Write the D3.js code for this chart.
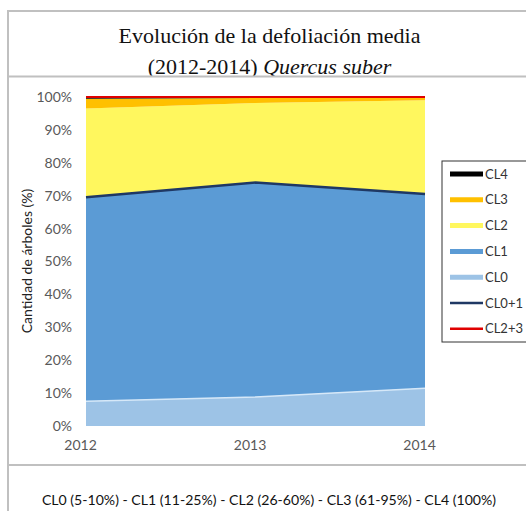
<!DOCTYPE html>
<html><head><meta charset="utf-8">
<script src="https://cdn.jsdelivr.net/npm/d3@7"></script>
<style>body{margin:0;background:#fff}svg{display:block}</style>
</head><body>
<script>
const years = ["2012", "2013", "2014"];
const CL0 = [7.5, 8.8, 11.5];
const CL1 = [62.0, 65.2, 59.0];
const CL2 = [27.0, 24.2, 28.5];
const CL3 = [3.0, 1.5, 0.8];
const CL4 = [0.5, 0.3, 0.2];
const yTicks = [0, 10, 20, 30, 40, 50, 60, 70, 80, 90, 100];
const legendLabels = ["CL4", "CL3", "CL2", "CL1", "CL0", "CL0+1", "CL2+3"];
const titleLine1 = "Evolución de la defoliación media";
const footer = "CL0 (5-10%) - CL1 (11-25%) - CL2 (26-60%) - CL3 (61-95%) - CL4 (100%)";

const W = 526, H = 511;
const svg = d3.select("body").append("svg").attr("width", W).attr("height", H);
const sans = "Lato, sans-serif";

// frame
const frameColor = "#c0c0c0";
svg.append("line").attr("x1", 8).attr("x2", W).attr("y1", 11).attr("y2", 11).attr("stroke", frameColor).attr("stroke-width", 2);
svg.append("line").attr("x1", 8).attr("x2", 8).attr("y1", 10).attr("y2", H).attr("stroke", frameColor).attr("stroke-width", 2);
svg.append("line").attr("x1", 8).attr("x2", W).attr("y1", 76.5).attr("y2", 76.5).attr("stroke", frameColor).attr("stroke-width", 2);
svg.append("line").attr("x1", 8).attr("x2", W).attr("y1", 465).attr("y2", 465).attr("stroke", frameColor).attr("stroke-width", 2);

// title (second line clipped by the rule)
svg.append("clipPath").attr("id", "tclip").append("rect").attr("x", 0).attr("y", 12).attr("width", W).attr("height", 63.5);
const tg = svg.append("g").attr("clip-path", "url(#tclip)");
tg.append("text").attr("x", 269.5).attr("y", 43).attr("text-anchor", "middle")
  .attr("font-family", "Liberation Serif, serif").attr("font-size", 22).attr("fill", "#111")
  .text(titleLine1);
const t2 = tg.append("text").attr("x", 269.5).attr("y", 74).attr("text-anchor", "middle")
  .attr("font-family", "Liberation Serif, serif").attr("font-size", 22).attr("fill", "#111");
t2.append("tspan").text("(2012-2014) ");
t2.append("tspan").attr("font-style", "italic").text("Quercus suber");

// scales
const x = d3.scalePoint().domain(years).range([86, 425]);
const y = d3.scaleLinear().domain([0, 100]).range([426, 97]);

const series = [
  {name: "CL0", vals: CL0, color: "#9dc3e6"},
  {name: "CL1", vals: CL1, color: "#5b9bd5"},
  {name: "CL2", vals: CL2, color: "#fff75e"},
  {name: "CL3", vals: CL3, color: "#ffc000"},
  {name: "CL4", vals: CL4, color: "#000000"}
];
const rows = years.map((yr, i) => {
  const r = {year: yr};
  series.forEach(s => r[s.name] = s.vals[i]);
  return r;
});
const stack = d3.stack().keys(series.map(s => s.name))(rows);
const area = d3.area().x(d => x(d.data.year)).y0(d => y(d[0])).y1(d => y(d[1]));
svg.append("g").selectAll("path").data(stack).join("path")
  .attr("d", area).attr("fill", (d, i) => series[i].color);

// highlight edge of CL0
svg.append("path").datum(stack[0])
  .attr("d", d3.line().x(d => x(d.data.year)).y(d => y(d[1])))
  .attr("fill", "none").attr("stroke", "#d6e8f8").attr("stroke-width", 1.5);

// lines (stacked line series)
const l01 = years.map((yr, i) => ({year: yr, v: CL0[i] + CL1[i]}));
const l23 = years.map((yr, i) => ({year: yr, v: CL0[i] + CL1[i] + CL2[i] + CL3[i] + CL4[i]}));
const lg = d3.line().x(d => x(d.year)).y(d => y(d.v));
svg.append("path").datum(l01).attr("d", lg).attr("fill", "none").attr("stroke", "#1f3864").attr("stroke-width", 2.5);
svg.append("path").datum(l23).attr("d", lg).attr("fill", "none").attr("stroke", "#e00000").attr("stroke-width", 2);

// y axis
const yAxis = d3.axisLeft(y).tickValues(yTicks).tickFormat(d => d + "%").tickSize(0).tickPadding(14);
const ya = svg.append("g").attr("transform", "translate(86,0)").call(yAxis);
ya.select(".domain").remove();
ya.selectAll("text").attr("font-family", sans).attr("font-size", 14).attr("fill", "#595959");

// x axis
const xAxis = d3.axisBottom(x).tickSize(0).tickPadding(8);
const xa = svg.append("g").attr("transform", "translate(-6,432)").call(xAxis);
xa.select(".domain").remove();
xa.selectAll("text").attr("font-family", sans).attr("font-size", 14).attr("fill", "#595959");

// y title
svg.append("text").attr("transform", "translate(32,261) rotate(-90)").attr("text-anchor", "middle")
  .attr("font-family", sans).attr("font-size", 14).attr("fill", "#222")
  .text("Cantidad de árboles (%)");

// legend
const legendColors = ["#000000", "#ffc000", "#fff75e", "#5b9bd5", "#9dc3e6", "#1f3864", "#e00000"];
const legendWidths = [5, 5, 5, 5, 5, 2.5, 2.5];
svg.append("rect").attr("x", 442).attr("y", 161).attr("width", 90).attr("height", 181)
  .attr("fill", "#fff").attr("stroke", "#333").attr("stroke-width", 1);
const li = svg.append("g").selectAll("g").data(legendLabels).join("g")
  .attr("transform", (d, i) => `translate(0,${174 + i * 25.8})`);
li.append("line").attr("x1", 450).attr("x2", 483).attr("y1", 0).attr("y2", 0)
  .attr("stroke", (d, i) => legendColors[i]).attr("stroke-width", (d, i) => legendWidths[i]);
li.append("text").attr("x", 485).attr("y", 4.5).attr("font-family", sans)
  .attr("font-size", 13).attr("fill", "#333").text(d => d);

// footer
svg.append("text").attr("x", 269).attr("y", 505).attr("text-anchor", "middle")
  .attr("font-family", sans).attr("font-size", 14.1).attr("fill", "#111")
  .text(footer);
</script>
</body></html>
